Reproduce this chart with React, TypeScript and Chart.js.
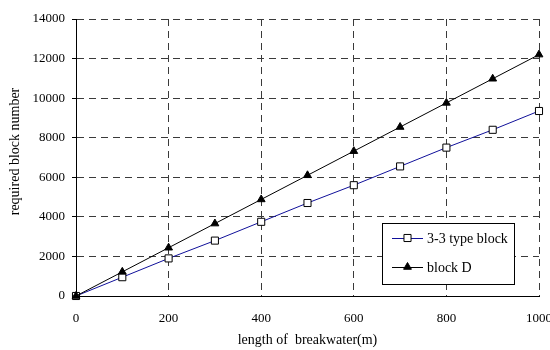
import React, { useEffect, useRef } from "react";
import { Chart, registerables } from "chart.js";

Chart.register(...registerables);

const lengths = [0, 100, 200, 300, 400, 500, 600, 700, 800, 900, 1000];
const type33Values = [0, 950, 1900, 2800, 3750, 4700, 5600, 6550, 7500, 8400, 9350];
const blockDValues = [0, 1220, 2440, 3660, 4880, 6100, 7320, 8540, 9760, 10980, 12200];
const seriesNames = ["3-3 type block", "block D"];
const xTitle = "length of  breakwater(m)";
const yTitle = "required block number";

const FONT = "'Liberation Serif', 'Times New Roman', serif";
const BLUE = "#10109a";
const GRID = "#3a3a3a";

function drawMarker(ctx: CanvasRenderingContext2D, style: string, r: number, x: number, y: number, fill: string) {
  ctx.beginPath();
  if (style === "rect") {
    const s = Math.SQRT1_2 * r;
    ctx.rect(x - s, y - s, 2 * s, 2 * s);
  } else {
    const a = -Math.PI / 2;
    for (let k = 0; k < 3; k++) {
      const ang = a + (k * 2 * Math.PI) / 3;
      const px = x + Math.cos(ang) * r;
      const py = y + Math.sin(ang) * r;
      if (k === 0) ctx.moveTo(px, py);
      else ctx.lineTo(px, py);
    }
    ctx.closePath();
  }
  ctx.fillStyle = fill;
  ctx.fill();
  ctx.strokeStyle = "#000";
  ctx.lineWidth = 1;
  ctx.stroke();
}

const legendPlugin = {
  id: "boxLegend",
  afterDraw(chart: any) {
    const { ctx, chartArea } = chart;
    const left = chartArea.left + 306;
    const top = chartArea.top + 204;
    const w = 132;
    const h = 61;
    ctx.save();
    ctx.fillStyle = "#fff";
    ctx.fillRect(left, top, w, h);
    ctx.strokeStyle = "#000";
    ctx.lineWidth = 1;
    ctx.setLineDash([]);
    ctx.strokeRect(left + 0.5, top + 0.5, w, h);
    const entries = [
      { label: seriesNames[0], color: BLUE, style: "rect", r: 5, fill: "#fff", y: top + 15 },
      { label: seriesNames[1], color: "#000", style: "triangle", r: 4.5, fill: "#000", y: top + 44 },
    ];
    for (const e of entries) {
      ctx.beginPath();
      ctx.strokeStyle = e.color;
      ctx.lineWidth = 1;
      ctx.moveTo(left + 10, e.y + 0.5);
      ctx.lineTo(left + 41, e.y + 0.5);
      ctx.stroke();
      drawMarker(ctx, e.style, e.r, left + 25.5, e.y, e.fill);
      ctx.fillStyle = "#000";
      ctx.font = `14px ${FONT}`;
      ctx.textBaseline = "middle";
      ctx.textAlign = "left";
      ctx.fillText(e.label, left + 45, e.y + 1);
    }
    // y axis title
    ctx.save();
    ctx.translate(15, (chartArea.top + chartArea.bottom) / 2 - 6);
    ctx.rotate(-Math.PI / 2);
    ctx.font = `14px ${FONT}`;
    ctx.textAlign = "center";
    ctx.textBaseline = "middle";
    ctx.fillStyle = "#000";
    ctx.fillText(yTitle, 0, 0);
    ctx.restore();
    ctx.restore();
  },
};

const axisLinePlugin = {
  id: "axisLines",
  afterDatasetsDraw(chart: any) {
    const { ctx, chartArea } = chart;
    ctx.save();
    ctx.strokeStyle = "#000";
    ctx.lineWidth = 1;
    ctx.setLineDash([]);
    ctx.beginPath();
    ctx.moveTo(chartArea.left, chartArea.bottom + 0.5);
    ctx.lineTo(chartArea.right, chartArea.bottom + 0.5);
    ctx.stroke();
    ctx.restore();
  },
};

export default function App() {
  const ref = useRef<HTMLCanvasElement>(null);
  useEffect(() => {
    if (!ref.current) return;
    const chart = new Chart(ref.current, {
      type: "line",
      data: {
        datasets: [
          {
            label: seriesNames[0],
            data: lengths.map((x, i) => ({ x, y: type33Values[i] })),
            borderColor: BLUE,
            borderWidth: 1,
            pointStyle: "rect",
            pointRadius: 5,
            pointBackgroundColor: "#fff",
            pointBorderColor: "#000",
            pointBorderWidth: 1,
            clip: false,
            order: 2,
          },
          {
            label: seriesNames[1],
            data: lengths.map((x, i) => ({ x, y: blockDValues[i] })),
            borderColor: "#000",
            borderWidth: 1,
            pointStyle: "triangle",
            pointRadius: 4.5,
            pointBackgroundColor: "#000",
            pointBorderColor: "#000",
            pointBorderWidth: 1,
            clip: false,
            order: 1,
          },
        ],
      },
      options: {
        animation: false,
        responsive: false,
        maintainAspectRatio: false,
        layout: { padding: { left: 0, top: 19, right: 11, bottom: 0 } },
        plugins: { legend: { display: false }, tooltip: { enabled: false } },
        scales: {
          x: {
            type: "linear",
            min: 0,
            max: 1000,
            ticks: {
              stepSize: 200,
              color: "#000",
              font: { family: FONT, size: 13 },
              padding: 15,
              maxRotation: 0,
              callback: (v: any) => String(v),
            },
            grid: {
              color: GRID,
              lineWidth: 1,
              drawTicks: false,
            },
            border: { display: true, color: "#000", width: 1, dash: [7, 5] } as any,
            title: {
              display: true,
              text: xTitle,
              color: "#000",
              font: { family: FONT, size: 14 },
              padding: { top: 0, bottom: 1 },
            },
            afterFit(scale: any) {
              scale.height = 54;
              scale.paddingLeft = 0;
              scale.paddingRight = 0;
            },
          },
          y: {
            min: 0,
            max: 14000,
            ticks: {
              stepSize: 2000,
              color: "#000",
              font: { family: FONT, size: 13 },
              padding: 7,
              callback: (v: any) => String(v),
            },
            grid: {
              color: GRID,
              lineWidth: 1,
              tickLength: 4,
              tickColor: "#000",
              tickBorderDash: [],
            } as any,
            border: { display: true, color: "#000", width: 1, dash: [7, 5] } as any,
            title: { display: false },
            afterFit(scale: any) {
              scale.width = 76;
            },
          },
        },
      },
      plugins: [axisLinePlugin, legendPlugin],
    });
    return () => chart.destroy();
  }, []);
  return (
    <div style={{ position: "fixed", left: 0, top: 0, width: 550, height: 350, background: "#fff" }}>
      <canvas ref={ref} width={550} height={350} style={{ display: "block" }} />
    </div>
  );
}
